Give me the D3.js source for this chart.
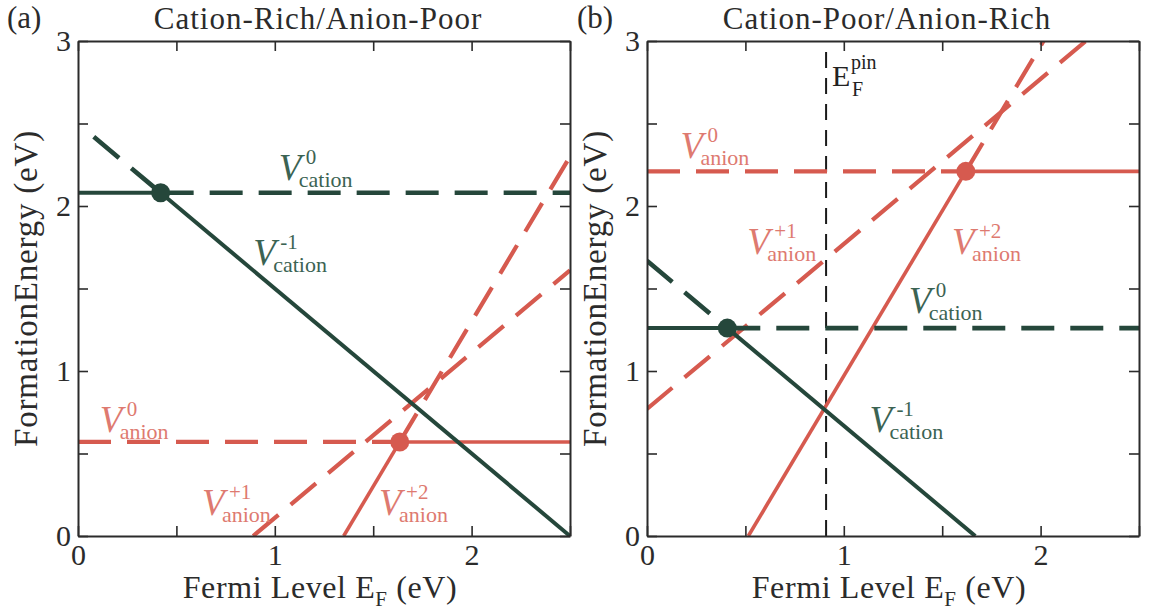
<!DOCTYPE html>
<html>
<head>
<meta charset="utf-8">
<script src="https://cdn.jsdelivr.net/npm/d3@7"></script>
<style>
  html, body { margin: 0; padding: 0; background: #ffffff; }
</style>
</head>
<body>
<svg id="chart" width="1152" height="614"></svg>
<script>
// Vacancy formation energies versus Fermi level under two growth conditions.

const fermiRange = [0, 2.5];
const energyRange = [0, 3];
const xTickValues = [0, 0.5, 1, 1.5, 2, 2.5];
const yTickValues = [0, 0.5, 1, 1.5, 2, 2.5, 3];
const xTickLabels = [0, 1, 2];
const yTickLabels = [0, 1, 2, 3];

const panelTags = ["(a)", "(b)"];
const panelTitles = ["Cation-Rich/Anion-Poor", "Cation-Poor/Anion-Rich"];

// Each charge state: E(EF) = e0 + q * EF, with its stable (solid) and metastable (dashed) EF ranges
const richLevels = [
  { species: "anion",  q: 0,  e0: 0.57,  dashed: [0, 1.635],    solid: [1.635, 2.5] },
  { species: "anion",  q: 1,  e0: -0.89, dashed: [0.89, 2.5],   solid: null },
  { species: "anion",  q: 2,  e0: -2.70, dashed: [1.635, 2.5],  solid: [1.35, 1.635] },
  { species: "cation", q: 0,  e0: 2.08,  dashed: [0.42, 2.5],   solid: [0, 0.42] },
  { species: "cation", q: -1, e0: 2.50,  dashed: [0.08, 0.42],  solid: [0.42, 2.5] }
];
const poorLevels = [
  { species: "anion",  q: 0,  e0: 2.21,  dashed: [0, 1.62],     solid: [1.62, 2.5] },
  { species: "anion",  q: 1,  e0: 0.77,  dashed: [0, 2.23],     solid: null },
  { species: "anion",  q: 2,  e0: -1.03, dashed: [1.62, 2.015], solid: [0.515, 1.62] },
  { species: "cation", q: 0,  e0: 1.26,  dashed: [0.408, 2.5],  solid: [0, 0.408] },
  { species: "cation", q: -1, e0: 1.668, dashed: [0, 0.408],    solid: [0.408, 1.668] }
];

// Charge transition points
const richTransitions = [
  { species: "cation", ef: 0.42,  e: 2.08 },
  { species: "anion",  ef: 1.635, e: 0.57 }
];
const poorTransitions = [
  { species: "cation", ef: 0.408, e: 1.26 },
  { species: "anion",  ef: 1.62,  e: 2.21 }
];

// Pinned Fermi level (panel b)
const pinnedFermi = [0.91];

// Label anchors in data units (EF, E)
const richLabels = [
  { species: "cation", charge: "0",  ef: 1.02, e: 2.16 },
  { species: "cation", charge: "-1", ef: 0.89, e: 1.64 },
  { species: "anion",  charge: "0",  ef: 0.11, e: 0.63 },
  { species: "anion",  charge: "+1", ef: 0.63, e: 0.13 },
  { species: "anion",  charge: "+2", ef: 1.53, e: 0.13 }
];
const poorLabels = [
  { species: "anion",  charge: "0",  ef: 0.17, e: 2.29 },
  { species: "anion",  charge: "+1", ef: 0.51, e: 1.71 },
  { species: "anion",  charge: "+2", ef: 1.55, e: 1.71 },
  { species: "cation", charge: "0",  ef: 1.33, e: 1.35 },
  { species: "cation", charge: "-1", ef: 1.13, e: 0.63 }
];
const pinLabelAnchor = [0.94, 2.73];

const lineColor = { cation: "#25473b", anion: "#d65a4f" };
const labelColor = { cation: "#3b6353", anion: "#de7a70" };
const lineWidth = { cation: 4, anion: 3.6 };
const textColor = "#2b2b2b";
const serif = '"Liberation Serif", "DejaVu Serif", serif';

const svg = d3.select("#chart");

const plotTop = 41, plotHeight = 495, plotWidth = 492;
const panelLefts = [78, 647];
const tagLefts = [7, 577];
const yTitleX = [37, 606];

const panels = [
  { levels: richLevels, transitions: richTransitions, labels: richLabels, pin: null },
  { levels: poorLevels, transitions: poorTransitions, labels: poorLabels, pin: pinnedFermi }
];

const txt = (sel, size) => sel.style("font-family", serif).style("font-size", size + "px");

panels.forEach((p, i) => {
  const left = panelLefts[i];
  const x = d3.scaleLinear().domain(fermiRange).range([0, plotWidth]);
  const y = d3.scaleLinear().domain(energyRange).range([plotHeight, 0]);

  const g = svg.append("g").attr("transform", `translate(${left},${plotTop})`);

  const clipId = "clip" + i;
  g.append("clipPath").attr("id", clipId)
    .append("rect").attr("x", 0).attr("y", 0).attr("width", plotWidth).attr("height", plotHeight);

  const plot = g.append("g").attr("clip-path", `url(#${clipId})`);

  const seg = (lvl, range) => d3.line()
    .x(d => x(d))
    .y(d => y(lvl.e0 + lvl.q * d))(range);

  // pinned Fermi level marker
  if (p.pin) {
    plot.selectAll("line.pin").data(p.pin).join("line")
      .attr("class", "pin")
      .attr("x1", d => x(d)).attr("x2", d => x(d))
      .attr("y1", y(energyRange[0])).attr("y2", y(energyRange[1]))
      .attr("stroke", "#1a1a1a").attr("stroke-width", 2)
      .attr("stroke-dasharray", "16,10");
  }

  // anion lines first, cation on top
  const ordered = p.levels.filter(l => l.species === "anion").concat(p.levels.filter(l => l.species === "cation"));
  ordered.forEach(lvl => {
    if (lvl.dashed) {
      plot.append("path").attr("d", seg(lvl, lvl.dashed))
        .attr("fill", "none").attr("stroke", lineColor[lvl.species])
        .attr("stroke-width", lineWidth[lvl.species] + 0.6)
        .attr("stroke-dasharray", "33,16");
    }
    if (lvl.solid) {
      plot.append("path").attr("d", seg(lvl, lvl.solid))
        .attr("fill", "none").attr("stroke", lineColor[lvl.species])
        .attr("stroke-width", lineWidth[lvl.species]);
    }
  });

  plot.selectAll("circle.tr").data(p.transitions).join("circle")
    .attr("class", "tr")
    .attr("cx", d => x(d.ef)).attr("cy", d => y(d.e)).attr("r", 9.5)
    .attr("fill", d => lineColor[d.species]);

  // frame and inward ticks on all sides
  const fmt = d => xTickLabels.includes(d) ? String(d) : "";
  const fmtY = d => yTickLabels.includes(d) ? String(d) : "";
  const styleAxis = sel => {
    sel.select(".domain").attr("stroke", textColor).attr("stroke-width", 2);
    sel.selectAll(".tick line").attr("stroke", textColor).attr("stroke-width", 1.6);
    sel.selectAll(".tick text").attr("fill", textColor).call(txt, 30);
  };
  g.append("g").attr("transform", `translate(0,${plotHeight})`)
    .call(d3.axisBottom(x).tickValues(xTickValues).tickFormat(fmt).tickSize(-10).tickSizeOuter(0).tickPadding(8))
    .call(styleAxis);
  g.append("g")
    .call(d3.axisTop(x).tickValues(xTickValues).tickFormat("").tickSize(-10).tickSizeOuter(0))
    .call(styleAxis);
  g.append("g")
    .call(d3.axisLeft(y).tickValues(yTickValues).tickFormat(fmtY).tickSize(-10).tickSizeOuter(0).tickPadding(7))
    .call(styleAxis);
  g.append("g").attr("transform", `translate(${plotWidth},0)`)
    .call(d3.axisRight(y).tickValues(yTickValues).tickFormat("").tickSize(-10).tickSizeOuter(0))
    .call(styleAxis);

  // vacancy labels
  p.labels.forEach(l => {
    const lx = x(l.ef), ly = y(l.e);
    const c = labelColor[l.species];
    g.append("text").attr("x", lx).attr("y", ly).attr("fill", c)
      .call(txt, 37).style("font-style", "italic").text("V");
    g.append("text").attr("x", lx + 27).attr("y", ly - 16).attr("fill", c)
      .call(txt, 21).text(l.charge);
    g.append("text").attr("x", lx + 20).attr("y", ly + 7).attr("fill", c)
      .call(txt, 22).text(l.species);
  });

  if (p.pin) {
    const px = x(pinLabelAnchor[0]), py = y(pinLabelAnchor[1]);
    g.append("text").attr("x", px).attr("y", py).attr("fill", "#222").call(txt, 30).text("E");
    g.append("text").attr("x", px + 19).attr("y", py - 17).attr("fill", "#222").call(txt, 20).text("pin");
    g.append("text").attr("x", px + 20).attr("y", py + 10).attr("fill", "#222").call(txt, 20).text("F");
  }

  // panel title and tag
  g.append("text").attr("x", plotWidth / 2 - 6).attr("y", -12)
    .attr("text-anchor", "middle").attr("fill", textColor)
    .call(txt, 31).style("letter-spacing", "1px").text(panelTitles[i]);
  g.append("text").attr("x", tagLefts[i] - left).attr("y", -13)
    .attr("fill", textColor).call(txt, 31).text(panelTags[i]);

  // x axis title
  const xt = g.append("text").attr("x", plotWidth / 2 - 4).attr("y", plotHeight + 62)
    .attr("text-anchor", "middle").attr("fill", textColor)
    .call(txt, 32).style("letter-spacing", "0.6px");
  xt.append("tspan").text("Fermi Level E");
  xt.append("tspan").style("font-size", "21px").attr("dy", 8).text("F");
  xt.append("tspan").attr("dy", -8).text(" (eV)");

  // y axis title
  g.append("text")
    .attr("transform", `translate(${yTitleX[i] - left},${plotHeight / 2}) rotate(-90)`)
    .attr("text-anchor", "middle").attr("fill", textColor)
    .call(txt, 33).style("letter-spacing", "0.8px")
    .text("FormationEnergy (eV)");
});
</script>
</body>
</html>
